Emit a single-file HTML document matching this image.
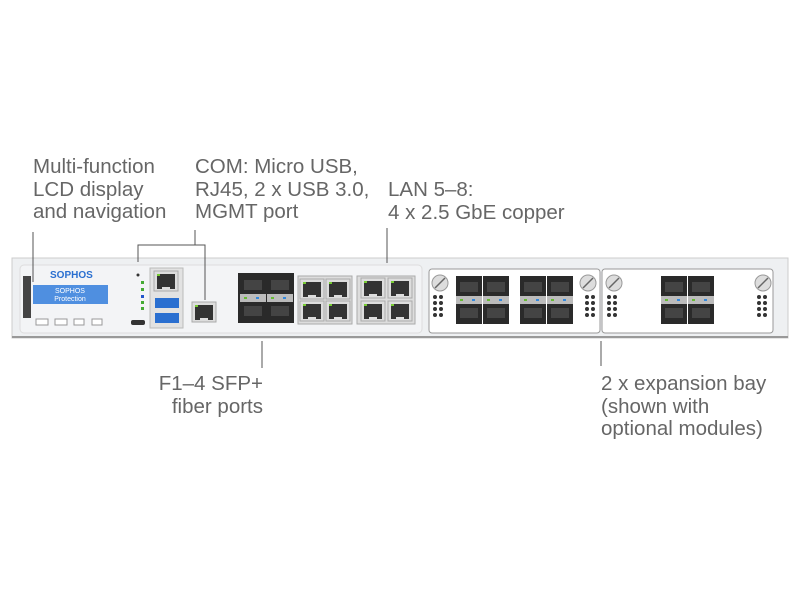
<!DOCTYPE html>
<html><head><style>
body{margin:0;background:#fff;width:800px;height:600px;overflow:hidden;position:relative;font-family:"Liberation Sans",sans-serif}
.t{position:absolute;color:#666;font-size:20.5px;line-height:22.5px;white-space:nowrap}
svg{position:absolute;left:0;top:0}
</style></head><body>
<div class="t" style="left:33px;top:156px">Multi-function<br>LCD display<br>and navigation</div>
<div class="t" style="left:195px;top:156px">COM: Micro USB,<br>RJ45, 2 x USB 3.0,<br>MGMT port</div>
<div class="t" style="left:388px;top:179px">LAN 5–8:<br>4 x 2.5 GbE copper</div>
<div class="t" style="right:537px;top:373px;text-align:right">F1–4 SFP+<br>fiber ports</div>
<div class="t" style="left:601px;top:373px">2 x expansion bay<br>(shown with<br>optional modules)</div>
<svg width="800" height="600">
<defs>
<g id="rj"><rect width="24" height="20" fill="#ddd" stroke="#aaa"/><rect x="3" y="3" width="18" height="15" fill="#333"/><rect x="8" y="16" width="8" height="3" fill="#ddd"/><rect x="3" y="3" width="3" height="2" fill="#7c3"/></g>
<g id="sfp"><rect width="26" height="48" fill="#2a2a2a"/><rect x="0" y="20" width="26" height="8" fill="#bbb"/><rect x="4" y="23" width="3" height="2" fill="#6b3"/><rect x="16" y="23" width="3" height="2" fill="#38d"/><rect x="4" y="6" width="18" height="10" fill="#444"/><rect x="4" y="32" width="18" height="10" fill="#444"/></g>
<g id="dots"><circle cx="0" cy="0" r="2" fill="#333"/><circle cx="6" cy="0" r="2" fill="#333"/><circle cx="0" cy="6" r="2" fill="#333"/><circle cx="6" cy="6" r="2" fill="#333"/><circle cx="0" cy="12" r="2" fill="#333"/><circle cx="6" cy="12" r="2" fill="#333"/><circle cx="0" cy="18" r="2" fill="#333"/><circle cx="6" cy="18" r="2" fill="#333"/></g>
<g id="screw"><circle r="8" fill="#ddd" stroke="#999"/><line x1="-5" y1="5" x2="5" y2="-5" stroke="#666" stroke-width="1.5"/></g>
</defs>
<rect x="12" y="258" width="776" height="80" fill="#eef0f2" stroke="#ccc"/>
<line x1="12" y1="337" x2="788" y2="337" stroke="#999" stroke-width="2"/>
<rect x="20" y="265" width="402" height="68" rx="4" fill="#f3f4f6" stroke="#ddd"/>
<rect x="23" y="276" width="8" height="42" fill="#444"/>
<text x="50" y="278" font-size="10" font-weight="bold" fill="#2a6fd0">SOPHOS</text>
<rect x="33" y="285" width="75" height="19" fill="#4f8fe0"/>
<text x="70" y="293" font-size="7" fill="#fff" text-anchor="middle">SOPHOS</text>
<text x="70" y="301" font-size="7" fill="#fff" text-anchor="middle">Protection</text>
<rect x="36" y="319" width="12" height="6" fill="#fff" stroke="#999"/><rect x="55" y="319" width="12" height="6" fill="#fff" stroke="#999"/><rect x="74" y="319" width="10" height="6" fill="#fff" stroke="#999"/><rect x="92" y="319" width="10" height="6" fill="#fff" stroke="#999"/>
<circle cx="138" cy="275" r="1.5" fill="#333"/>
<rect x="141" y="281" width="3" height="3" fill="#4a3"/><rect x="141" y="288" width="3" height="3" fill="#4a3"/><rect x="141" y="295" width="3" height="3" fill="#25c"/><rect x="141" y="301" width="3" height="3" fill="#4a3"/><rect x="141" y="307" width="3" height="3" fill="#4a3"/>
<rect x="131" y="320" width="14" height="5" rx="2" fill="#333"/>
<rect x="150" y="268" width="33" height="60" fill="#e2e2e2" stroke="#bbb"/>
<use href="#rj" x="154" y="271"/>
<rect x="155" y="298" width="24" height="10" fill="#2a6fd0"/><rect x="155" y="313" width="24" height="10" fill="#2a6fd0"/>
<use href="#rj" x="192" y="302"/>
<rect x="238" y="273" width="56" height="50" fill="#2a2a2a"/>
<use href="#sfp" x="240" y="274"/><use href="#sfp" x="267" y="274"/>
<rect x="298" y="276" width="54" height="48" fill="#ddd" stroke="#aaa"/>
<use href="#rj" x="300" y="279"/><use href="#rj" x="326" y="279"/><use href="#rj" x="300" y="301"/><use href="#rj" x="326" y="301"/>
<rect x="357" y="276" width="58" height="48" fill="#ddd" stroke="#aaa"/>
<use href="#rj" x="361" y="278"/><use href="#rj" x="388" y="278"/><use href="#rj" x="361" y="301"/><use href="#rj" x="388" y="301"/>
<rect x="429" y="269" width="171" height="64" rx="3" fill="#fff" stroke="#999"/>
<rect x="602" y="269" width="171" height="64" rx="3" fill="#fff" stroke="#999"/>
<use href="#screw" x="440" y="283"/><use href="#screw" x="588" y="283"/><use href="#screw" x="614" y="283"/><use href="#screw" x="763" y="283"/>
<use href="#dots" x="435" y="297"/><use href="#dots" x="587" y="297"/><use href="#dots" x="609" y="297"/><use href="#dots" x="759" y="297"/>
<use href="#sfp" x="456" y="276"/><use href="#sfp" x="483" y="276"/><use href="#sfp" x="520" y="276"/><use href="#sfp" x="547" y="276"/>
<use href="#sfp" x="661" y="276"/><use href="#sfp" x="688" y="276"/>
<g stroke="#555" stroke-width="1" fill="none">
<line x1="33" y1="232" x2="33" y2="282"/>
<polyline points="138,262 138,245 205,245 205,300"/>
<line x1="195" y1="230" x2="195" y2="245"/>
<line x1="387" y1="228" x2="387" y2="263"/>
<line x1="262" y1="341" x2="262" y2="368"/>
<line x1="601" y1="341" x2="601" y2="366"/>
</g>
</svg>
</body></html>
